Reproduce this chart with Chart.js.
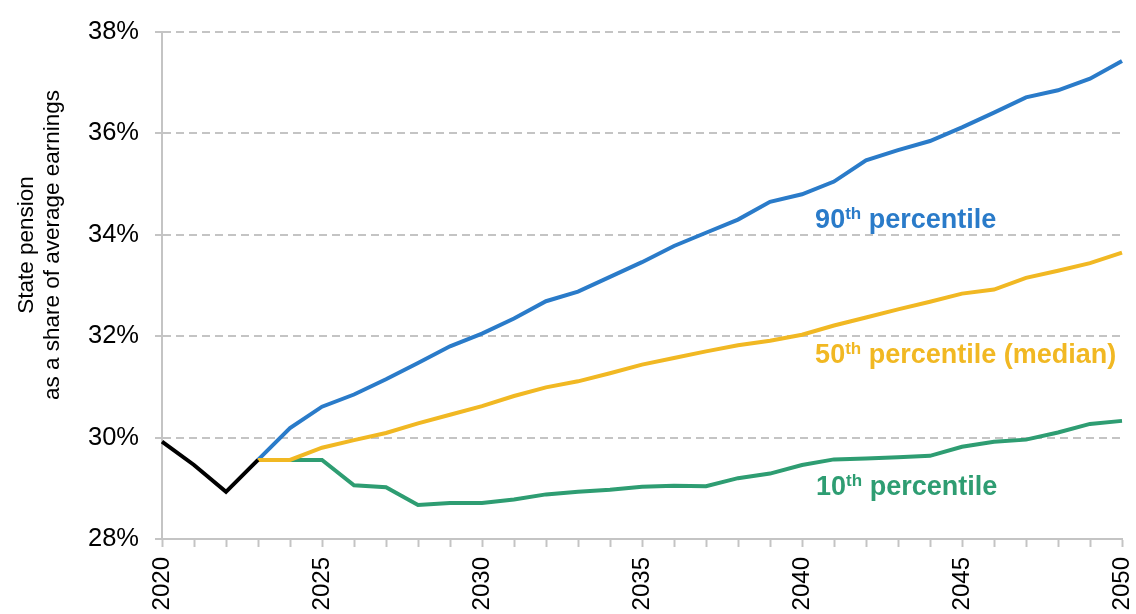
<!DOCTYPE html>
<html>
<head>
<meta charset="utf-8">
<script src="https://cdn.jsdelivr.net/npm/chart.js@4/dist/chart.umd.min.js"></script>
<style>
  html, body { margin: 0; padding: 0; background: #fff; }
  canvas { display: block; }
</style>
</head>
<body>
<canvas id="pensionChart" width="1136" height="614"></canvas>
<script>
// ── Data ──────────────────────────────────────────────────────────────────────

const years = ['2020', '2021', '2022', '2023', '2024', '2025', '2026', '2027', '2028', '2029',
    '2030', '2031', '2032', '2033', '2034', '2035', '2036', '2037', '2038', '2039',
    '2040', '2041', '2042', '2043', '2044', '2045', '2046', '2047', '2048', '2049', '2050'];

// 2020–2023 outturn
const history = [29.92, 29.46, 28.93, 29.56];

// projections, 2023–2050
const p90 = [29.56, 30.19, 30.61, 30.85, 31.15, 31.47, 31.80, 32.05, 32.35, 32.69,
    32.88, 33.17, 33.46, 33.78, 34.04, 34.30, 34.65, 34.80, 35.05, 35.47,
    35.67, 35.85, 36.12, 36.41, 36.71, 36.85, 37.08, 37.43];
const p50 = [29.56, 29.56, 29.80, 29.95, 30.09, 30.28, 30.45, 30.62, 30.82, 30.99,
    31.11, 31.27, 31.44, 31.57, 31.70, 31.82, 31.91, 32.03, 32.21, 32.37,
    32.53, 32.68, 32.84, 32.92, 33.15, 33.29, 33.44, 33.65];
const p10 = [29.56, 29.56, 29.56, 29.06, 29.02, 28.67, 28.71, 28.71, 28.78, 28.88,
    28.93, 28.97, 29.03, 29.05, 29.04, 29.20, 29.29, 29.46, 29.57, 29.59,
    29.61, 29.64, 29.82, 29.92, 29.96, 30.10, 30.27, 30.33];

const yTicks = [28, 30, 32, 34, 36, 38];
const yTitle = ['State pension', 'as a share of average earnings'];

const colours = { history: '#000000', p90: '#2a7bc9', p50: '#f1b823', p10: '#2e9d72' };

// ── Helpers ───────────────────────────────────────────────────────────────────

const projStart = years.indexOf('2023');
const padFront = (arr) => Array(projStart).fill(null).concat(arr);
const fontFamily = '"Liberation Sans", Arial, sans-serif';

const lineStyle = (colour) => ({
    borderColor: colour,
    backgroundColor: colour,
    borderWidth: 4,
    pointRadius: 0,
    tension: 0,
    fill: false,
});

// Inline labels: big number, superscript "th", then the rest
const labelsOnLines = [
    { num: '90', rest: ' percentile', x: 20.41, y: 34.14, colour: colours.p90 },
    { num: '50', rest: ' percentile (median)', x: 20.41, y: 31.47, colour: colours.p50 },
    { num: '10', rest: ' percentile', x: 20.44, y: 28.87, colour: colours.p10 },
];

const lineLabelPlugin = {
    id: 'lineLabels',
    afterDatasetsDraw(chart) {
        const { ctx, scales } = chart;
        ctx.save();
        ctx.textBaseline = 'alphabetic';
        ctx.textAlign = 'left';
        labelsOnLines.forEach((l) => {
            let x = scales.x.getPixelForValue(l.x);
            const y = scales.y.getPixelForValue(l.y);
            ctx.fillStyle = l.colour;
            ctx.font = `bold 27px ${fontFamily}`;
            ctx.fillText(l.num, x, y);
            x += ctx.measureText(l.num).width;
            ctx.font = `bold 17px ${fontFamily}`;
            ctx.fillText('th', x, y - 9);
            x += ctx.measureText('th').width;
            ctx.font = `bold 27px ${fontFamily}`;
            ctx.fillText(l.rest, x, y);
        });
        ctx.restore();
    },
};

// Axis title sits a bit above the plot's middle in the original, so draw it by hand
const yTitlePlugin = {
    id: 'yTitle',
    afterDraw(chart) {
        const { ctx } = chart;
        ctx.save();
        ctx.fillStyle = '#000';
        ctx.font = `22.5px ${fontFamily}`;
        ctx.textAlign = 'center';
        ctx.textBaseline = 'middle';
        yTitle.forEach((line, i) => {
            ctx.save();
            ctx.translate(27 + i * 26, 245);
            ctx.rotate(-Math.PI / 2);
            ctx.fillText(line, 0, 0);
            ctx.restore();
        });
        ctx.restore();
    },
};

// ── Chart ─────────────────────────────────────────────────────────────────────

const axisGrey = '#c4c4c4';

new Chart(document.getElementById('pensionChart'), {
    type: 'line',
    data: {
        labels: years,
        datasets: [
            { label: 'Outturn', data: history, ...lineStyle(colours.history) },
            { label: '50th percentile (median)', data: padFront(p50), ...lineStyle(colours.p50) },
            { label: '90th percentile', data: padFront(p90), ...lineStyle(colours.p90) },
            { label: '10th percentile', data: padFront(p10), ...lineStyle(colours.p10) },
        ],
    },
    options: {
        responsive: false,
        animation: false,
        layout: { padding: { left: 0, right: 14, top: 32, bottom: 0 } },
        plugins: {
            legend: { display: false },
            tooltip: { enabled: false },
        },
        scales: {
            x: {
                type: 'category',
                offset: false,
                afterFit(scale) {
                    scale.height = 75;
                    scale.paddingLeft = 0;
                    scale.paddingRight = 0;
                },
                grid: {
                    display: true,
                    drawOnChartArea: false,
                    drawTicks: true,
                    tickLength: 8,
                    tickColor: axisGrey,
                    tickWidth: 2,
                    tickBorderDash: [],
                },
                border: { display: true, color: axisGrey, width: 2 },
                ticks: {
                    autoSkip: false,
                    minRotation: 90,
                    maxRotation: 90,
                    padding: 10,
                    color: '#000',
                    font: { family: fontFamily, size: 24 },
                    callback(value, index) {
                        const yr = Number(years[index]);
                        return yr % 5 === 0 ? years[index] : '';
                    },
                },
            },
            y: {
                min: 28,
                max: 38,
                afterFit(scale) {
                    scale.width = 162;
                    scale.paddingTop = 0;
                    scale.paddingBottom = 0;
                },
                afterBuildTicks(scale) { scale.ticks = yTicks.map((v) => ({ value: v })); },
                grid: {
                    color: axisGrey,
                    lineWidth: 2,
                    drawTicks: true,
                    tickLength: 7,
                    tickColor: axisGrey,
                    tickWidth: 2,
                    tickBorderDash: [],
                },
                border: { display: true, color: axisGrey, width: 2, dash: [8, 5] },
                ticks: {
                    padding: 16,
                    color: '#000',
                    font: { family: fontFamily, size: 25.5 },
                    callback: (v) => v + '%',
                },
            },
        },
    },
    plugins: [lineLabelPlugin, yTitlePlugin],
});
</script>
</body>
</html>
